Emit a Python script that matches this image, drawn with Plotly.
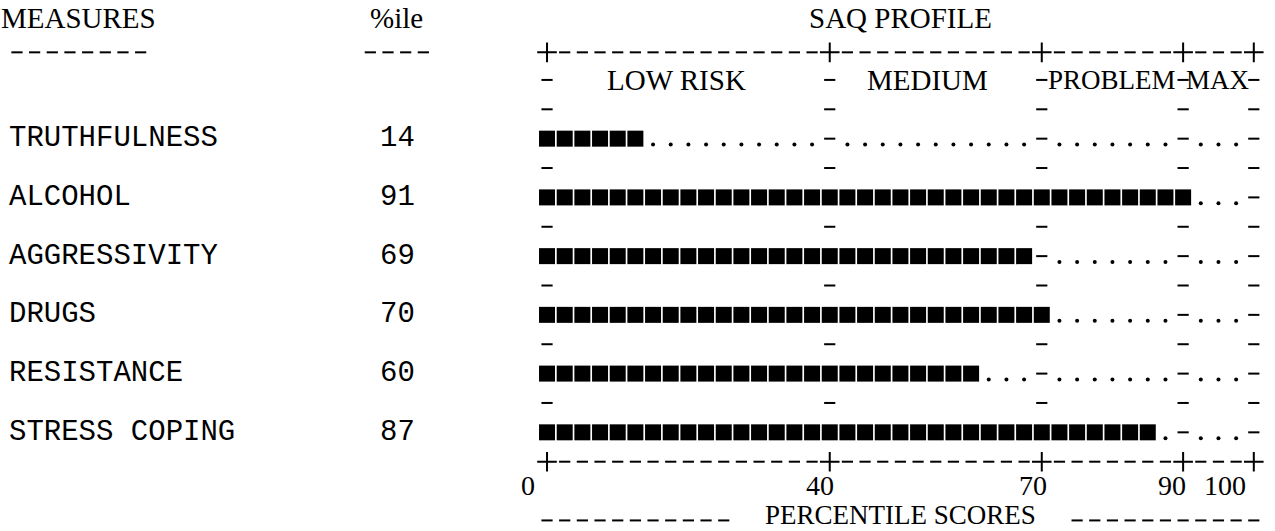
import plotly.graph_objects as go

# ---------------- data ----------------
measures = ["TRUTHFULNESS", "ALCOHOL", "AGGRESSIVITY", "DRUGS", "RESISTANCE", "STRESS COPING"]
percentiles = [14, 91, 69, 70, 60, 87]
zone_bounds = [0, 40, 70, 90, 100]
zone_labels = ["LOW RISK", "MEDIUM", "PROBLEM", "MAX"]
tick_values = [0, 40, 70, 90, 100]
tick_labels = ["0", "40", "70", "90", "100"]
chart_title = "SAQ PROFILE"
axis_title = "PERCENTILE SCORES"
col_headers = ["MEASURES", "%ile"]

# ---------------- style / layout constants ----------------
STEP = 2.5          # percentile units per character cell
N_CELLS = int(100 / STEP)   # 40
ORIGIN_COL = 30     # text column of percentile 0
SERIF = "Liberation Serif"
MONO = "Liberation Mono"
BLACK = "#000000"

def col_x(c):
    """centre of text column c expressed in percentile units"""
    return (c - ORIGIN_COL) * STEP

TITLE_LINE, RULE_TOP, ZONE_LINE = 0, 1, 2
FIRST_DATA_LINE = 4
RULE_BOTTOM = FIRST_DATA_LINE + 2 * len(measures) - 1
TICK_LINE = RULE_BOTTOM + 1
AXIS_TITLE_LINE = RULE_BOTTOM + 2

block_x, block_y = [], []
dot_x, dot_y = [], []
dash_x, dash_y = [], []
plus_x, plus_y = [], []

# data rows
for i, v in enumerate(percentiles):
    line = FIRST_DATA_LINE + 2 * i
    n = int(v / STEP) + 1
    for p in range(N_CELLS + 1):
        x = p * STEP
        if p < n:
            block_x.append(x); block_y.append(line)
        elif x in zone_bounds:
            dash_x.append(x); dash_y.append(line)
        else:
            dot_x.append(x); dot_y.append(line + 0.2)

# separator rows (zone row and between data rows)
sep_lines = [ZONE_LINE] + [FIRST_DATA_LINE - 1 + 2 * i for i in range(len(measures))]
for line in sep_lines:
    for b in zone_bounds:
        dash_x.append(b); dash_y.append(line)

# top and bottom rules
for line in (RULE_TOP, RULE_BOTTOM):
    for p in range(N_CELLS + 1):
        x = p * STEP
        yy = line + (0.06 if line == RULE_TOP else 0)
        if x in zone_bounds:
            plus_x.append(x); plus_y.append(yy)
        else:
            dash_x.append(x); dash_y.append(yy)

# underlines of the column headers
for c in range(0, len(col_headers[0])):
    dash_x.append(col_x(c)); dash_y.append(RULE_TOP + 0.06)
for c in range(20, 20 + len(col_headers[1])):
    dash_x.append(col_x(c)); dash_y.append(RULE_TOP + 0.06)

# dashes around the axis title
for p in list(range(0, 11)) + list(range(30, 41)):
    dash_x.append(p * STEP); dash_y.append(AXIS_TITLE_LINE)

fig = go.Figure()
fig.add_trace(go.Scatter(x=block_x, y=block_y, mode="markers",
                         marker=dict(symbol="square", size=16, color=BLACK, line=dict(width=0)),
                         hoverinfo="skip"))
fig.add_trace(go.Scatter(x=dot_x, y=dot_y, mode="markers",
                         marker=dict(symbol="circle", size=4, color=BLACK, line=dict(width=0)),
                         hoverinfo="skip"))
fig.add_trace(go.Scatter(x=dash_x, y=dash_y, mode="markers",
                         marker=dict(symbol="line-ew", size=8, color=BLACK,
                                     line=dict(width=2, color=BLACK)),
                         hoverinfo="skip"))
fig.add_trace(go.Scatter(x=plus_x, y=plus_y, mode="markers",
                         marker=dict(symbol="cross-thin", size=14, color=BLACK,
                                     line=dict(width=2, color=BLACK)),
                         hoverinfo="skip"))

ann = []
serif_font = dict(family=SERIF, size=29, color=BLACK)
mono_font = dict(family=MONO, size=29, color=BLACK)

# header row
ann.append(dict(x=col_x(3.5), y=TITLE_LINE, text=col_headers[0], font=serif_font,
                xanchor="center", yshift=3))
ann.append(dict(x=col_x(21.5), y=TITLE_LINE, text=col_headers[1], font=serif_font,
                xanchor="center", yshift=3))
ann.append(dict(x=50, y=TITLE_LINE, text=chart_title, font=serif_font,
                xanchor="center", yshift=3))

# zone labels
zone_shift = [-12, -8, 0, 0]
zone_size = [29, 29, 27, 27]
for k, lab in enumerate(zone_labels):
    mid = (zone_bounds[k] + zone_bounds[k + 1]) / 2
    ann.append(dict(x=mid, y=ZONE_LINE, text=lab,
                    font=dict(family=SERIF, size=zone_size[k], color=BLACK),
                    xanchor="center", xshift=zone_shift[k]))

# measure names and values
for i, (m, v) in enumerate(zip(measures, percentiles)):
    line = FIRST_DATA_LINE + 2 * i
    ann.append(dict(x=col_x(-0.5), y=line, text=m, font=mono_font, xanchor="left"))
    ann.append(dict(x=col_x(20.5), y=line, text=str(v), font=mono_font, xanchor="left"))

# tick labels
tick_shift = [-19, -10, -9, -11, -29]
tick_font = dict(family=SERIF, size=28, color=BLACK)
for tv, tl, sh in zip(tick_values, tick_labels, tick_shift):
    ann.append(dict(x=tv, y=TICK_LINE, text=tl, font=tick_font, xanchor="center",
                    xshift=sh, yshift=6))

# axis title
ann.append(dict(x=50, y=AXIS_TITLE_LINE, text=axis_title,
                font=dict(family=SERIF, size=27, color=BLACK),
                xanchor="center", yshift=5))

for a in ann:
    a.update(xref="x", yref="y", showarrow=False, yanchor="middle", borderpad=0)

fig.update_layout(
    width=1275, height=531,
    margin=dict(l=0, r=0, t=0, b=0),
    paper_bgcolor="white", plot_bgcolor="white",
    showlegend=False,
    annotations=ann,
    xaxis=dict(range=[-77.4, 103.0], visible=False, fixedrange=True),
    yaxis=dict(range=[17.36, -0.722], visible=False, fixedrange=True),
)

# remove the default 8px body margin so the figure fills the window exactly
fig.write_html("out.html", config={"displayModeBar": False},
               post_script="document.body.style.margin='0';document.body.style.overflow='hidden';")
